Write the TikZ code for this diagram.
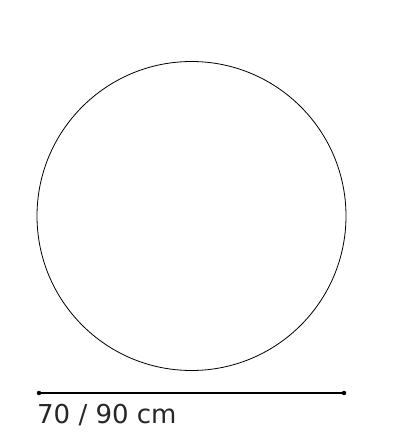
\documentclass[tikz,border=0pt]{standalone}
\usepackage{fontspec}
\setmainfont{DejaVu Sans}
\begin{document}
\begin{tikzpicture}[x=1pt,y=1pt]
\useasboundingbox (0,0) rectangle (416,-447);
\draw[color=black, line width=0.8pt](191.5,-216) circle[radius=154.5pt];
\coordinate (dimL) at (39,-393);
\coordinate (dimR) at (344,-393);
\draw[color=black, line width=1.6pt] (dimL) -- (dimR);
\draw[fill=black] (dimL) circle[radius=2pt];
\draw[fill=black] (dimR) circle[radius=2pt];
\node[anchor=base west, inner sep=0pt, font=\fontsize{26}{30}\selectfont, text=black!85] (size) at (37,-423) {70 / 90 cm};
\end{tikzpicture}
\end{document}
